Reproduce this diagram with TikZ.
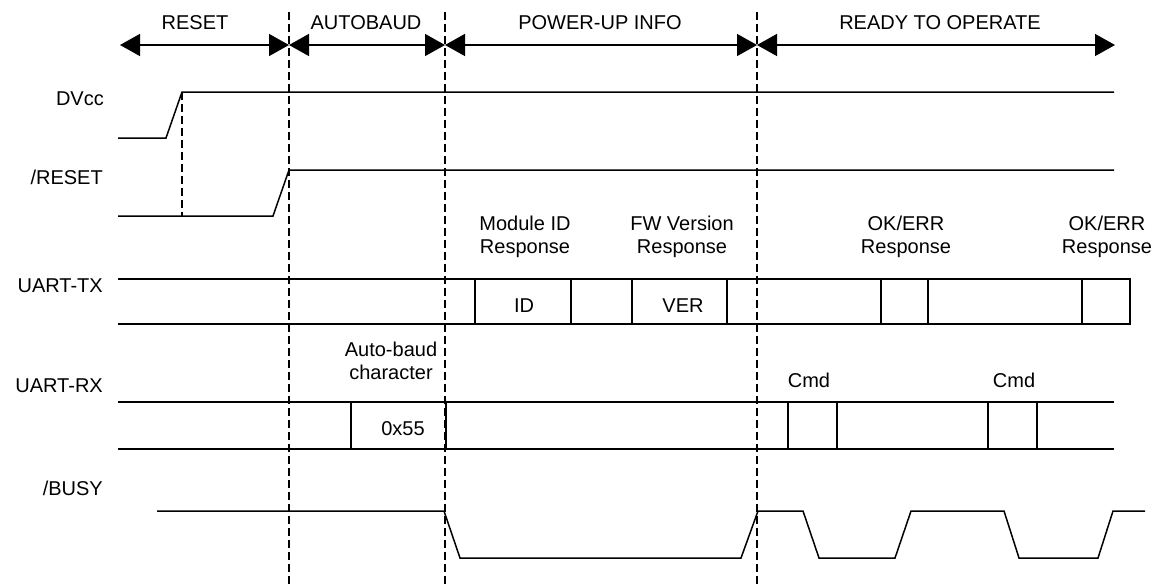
\documentclass[tikz,border=0pt]{standalone}
\usepackage{fontspec}
\setmainfont{Liberation Sans}
\usetikzlibrary{arrows.meta}
\begin{document}
\begin{tikzpicture}[x=1pt,y=-1pt,
  sig/.style={line width=1.5pt, line join=miter},
  phase/.style={line width=1.5pt, {Triangle[length=20pt,width=22pt]}-{Triangle[length=20pt,width=22pt]}},
  vdash/.style={line width=1.5pt, dash pattern=on 8pt off 4pt},
  txt/.style={font=\fontsize{20}{23}\selectfont, inner sep=0pt, anchor=base},
  sname/.style={txt, anchor=base east},
  two/.style={txt, align=center, anchor=base}]
\useasboundingbox (0,0) rectangle (1161,584);
% phase boundaries
\coordinate (b0) at (120,45);
\coordinate (b1) at (289,45);
\coordinate (b2) at (445,45);
\coordinate (b3) at (757,45);
\coordinate (b4) at (1115,45);
\draw[phase] (b0) -- (b1);
\draw[phase] (b1) -- (b2);
\draw[phase] (b2) -- (b3);
\draw[phase] (b3) -- (b4);
\node[txt] (tReset) at (195,29) {RESET};
\node[txt] (tAuto) at (366,29) {AUTOBAUD};
\node[txt] (tPower) at (600,29) {POWER-UP INFO};
\node[txt] (tReady) at (940,29) {READY TO OPERATE};
% dashed dividers
\draw[vdash] (289,12) -- (289,584);
\draw[vdash] (445,12) -- (445,584);
\draw[vdash] (757,12) -- (757,584);
% signal names
\node[sname] (nDV) at (104,105) {DVcc};
\node[sname] (nRS) at (103,184) {/RESET};
\node[sname] (nTX) at (103,292) {UART-TX};
\node[sname] (nRX) at (103,392) {UART-RX};
\node[sname] (nBY) at (103,495) {/BUSY};
% DVcc
\draw[sig] (118,138) -- (166,138) -- (182,92) -- (1114,92);
\draw[vdash] (182,92) -- (182,216);
% /RESET
\draw[sig] (118,216) -- (273,216) -- (289,170) -- (1114,170);
% UART-TX
\draw[sig] (118,279) -- (1114,279);
\draw[sig] (118,324) -- (1114,324);
\draw[sig] (475,279) rectangle (571,324);
\draw[sig] (632,279) rectangle (727,324);
\draw[sig] (881,279) rectangle (928,324);
\draw[sig] (1082,279) rectangle (1130,324);
\node[txt] (lID) at (524,312) {ID};
\node[txt] (lVER) at (683,312) {VER};
\node[two] (lMod) at (525,253) {Module ID\\Response};
\node[two] (lFW) at (682,253) {FW Version\\Response};
\node[two] (lOK1) at (906,253) {OK/ERR\\Response};
\node[two] (lOK2) at (1107,253) {OK/ERR\\Response};
% UART-RX
\draw[sig] (118,402) -- (1114,402);
\draw[sig] (118,449) -- (1114,449);
\draw[sig] (351,402) rectangle (446,449);
\draw[sig] (788,402) rectangle (837,449);
\draw[sig] (988,402) rectangle (1037,449);
\node[txt] (l55) at (403,435) {0x55};
\node[two] (lAB) at (391,379) {Auto-baud\\character};
\node[txt] (lC1) at (809,387) {Cmd};
\node[txt] (lC2) at (1014,387) {Cmd};
% /BUSY
\draw[sig] (157,511) -- (444,511) -- (460,558) -- (741,558) -- (758,511)
  -- (803,511) -- (819,558) -- (895,558) -- (911,511) -- (1004,511)
  -- (1019,558) -- (1098,558) -- (1113,511) -- (1145,511);
\end{tikzpicture}
\end{document}
